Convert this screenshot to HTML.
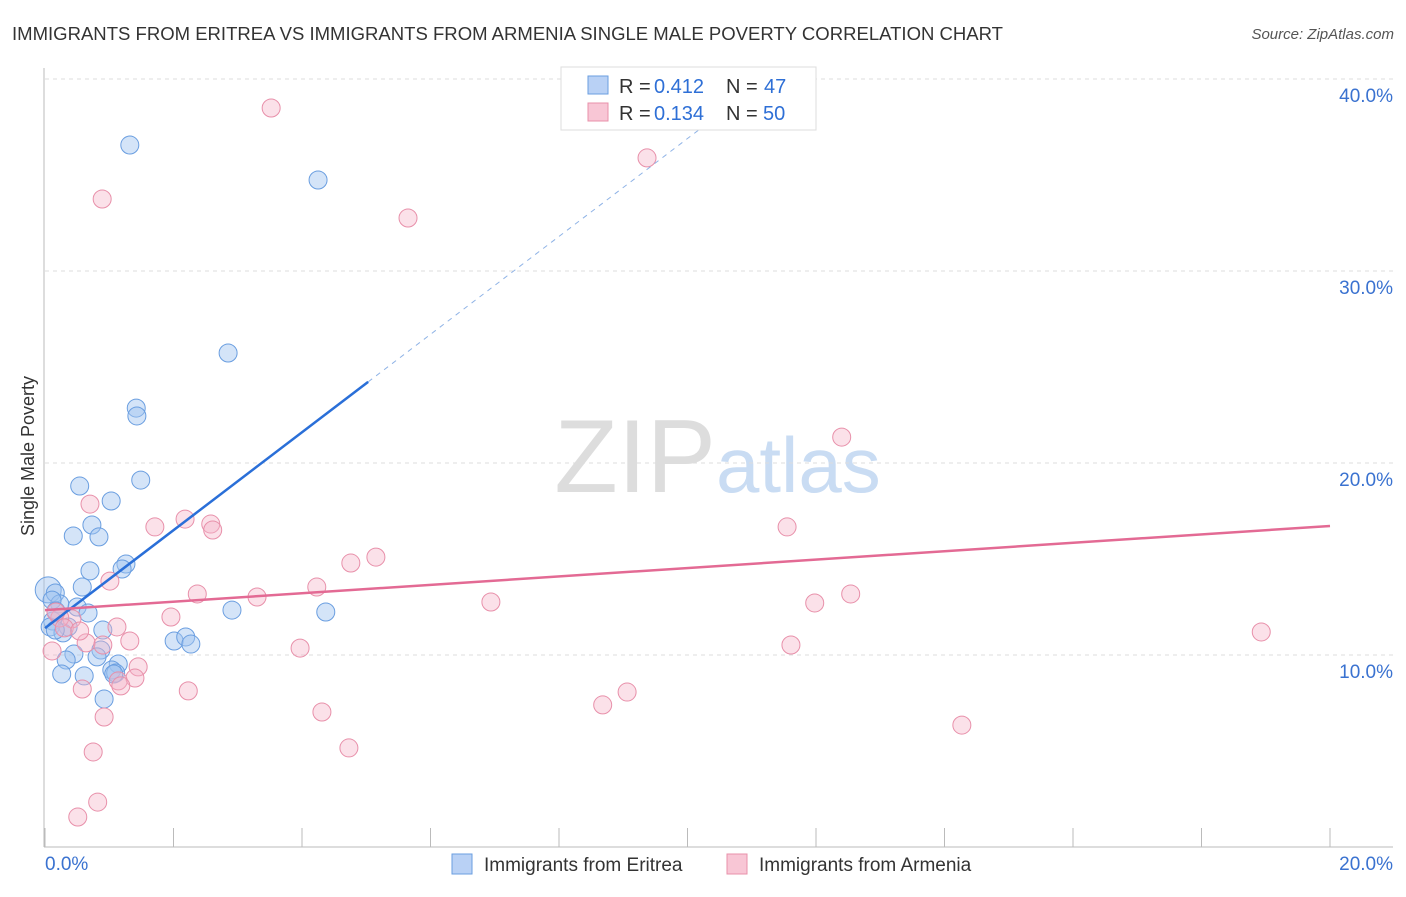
<!DOCTYPE html>
<html><head><meta charset="utf-8"><style>
body{margin:0;background:#fff;font-family:"Liberation Sans",sans-serif}
svg text{font-family:"Liberation Sans",sans-serif}
</style></head><body>
<svg id="chart" width="1406" height="892">
<text x="12" y="40" font-size="18" fill="#333" textLength="991" lengthAdjust="spacingAndGlyphs">IMMIGRANTS FROM ERITREA VS IMMIGRANTS FROM ARMENIA SINGLE MALE POVERTY CORRELATION CHART</text>
<text x="1394" y="39" font-size="15" fill="#555" font-style="italic" text-anchor="end">Source: ZipAtlas.com</text>
<text x="716" y="492" font-size="104" fill="#ddd" text-anchor="end" font-family="Liberation Serif">ZIP</text>
<text x="716" y="492" font-size="78" fill="#c9dcf3">atlas</text>
<text transform="translate(34,456) rotate(-90)" font-size="18" fill="#333" text-anchor="middle">Single Male Poverty</text>
<g id="grid"></g><g id="marks"></g><g id="lines"></g>
<g>
<rect x="561" y="67" width="255" height="63" fill="#fff" stroke="#ddd"/>
<rect x="588" y="76" width="20" height="18" fill="#b9d1f5" stroke="#6a9ee0"/>
<rect x="588" y="103" width="20" height="18" fill="#f8c6d5" stroke="#e890aa"/>
<text x="619" y="93" font-size="20" fill="#333">R =</text><text x="654" y="93" font-size="20" fill="#2e6fd6">0.412</text>
<text x="726" y="93" font-size="20" fill="#333">N =</text><text x="764" y="93" font-size="20" fill="#2e6fd6">47</text>
<text x="619" y="120" font-size="20" fill="#333">R =</text><text x="654" y="120" font-size="20" fill="#2e6fd6">0.134</text>
<text x="726" y="120" font-size="20" fill="#333">N =</text><text x="763" y="120" font-size="20" fill="#2e6fd6">50</text>
</g>
<g>
<rect x="452" y="854" width="20" height="20" fill="#b9d1f5" stroke="#6a9ee0"/>
<text x="484" y="871" font-size="19" fill="#333">Immigrants from Eritrea</text>
<rect x="727" y="854" width="20" height="20" fill="#f8c6d5" stroke="#e890aa"/>
<text x="759" y="871" font-size="19" fill="#333">Immigrants from Armenia</text>
</g>
<text x="45" y="870" font-size="19" fill="#3a72d0">0.0%</text>
<text x="1393" y="870" font-size="19" fill="#3a72d0" text-anchor="end">20.0%</text>
</svg>
<script>
const yTicks=[10,20,30,40];
const yTickLabels=["10.0%","20.0%","30.0%","40.0%"];
const eritreaX=[1.32,4.25,2.85,1.42,1.43,1.49,0.54,1.03,0.73,0.44,0.84,1.26,1.20,0.70,0.58,0.05,0.16,0.23,0.50,0.67,0.12,0.36,0.90,0.08,0.28,2.91,4.37,2.01,2.19,2.27,0.87,0.45,0.33,0.81,1.14,1.04,0.26,0.61,1.10,0.92,0.11,0.17,1.07,0.16];
const eritreaY=[36.56,34.74,25.73,22.86,22.45,19.11,18.80,18.02,16.77,16.20,16.15,14.74,14.48,14.38,13.54,13.39,13.23,12.66,12.50,12.19,11.77,11.46,11.30,11.46,11.15,12.34,12.24,10.73,10.94,10.57,10.26,10.05,9.74,9.90,9.53,9.22,9.01,8.91,9.06,7.71,12.86,12.29,9.01,11.30];
const armeniaX=[3.52,0.89,5.65,9.37,12.40,11.55,1.71,2.18,2.58,2.61,0.70,5.15,4.76,4.23,2.37,3.30,6.94,11.98,12.54,1.01,1.96,1.12,1.32,0.42,0.23,0.11,0.64,3.97,11.61,18.93,1.45,1.14,1.40,1.18,0.58,2.23,9.06,8.68,0.92,4.31,14.27,4.73,0.75,0.82,0.51,0.17,0.30,0.90,0.54];
const armeniaY=[38.49,33.75,32.76,35.89,21.35,16.67,16.67,17.08,16.82,16.51,17.86,15.10,14.79,13.54,13.18,13.02,12.76,12.71,13.18,13.85,11.98,11.46,10.73,11.88,11.93,10.21,10.63,10.36,10.52,11.20,9.38,8.65,8.80,8.39,8.23,8.13,8.07,7.40,6.77,7.03,6.35,5.16,4.95,2.34,1.56,12.24,11.41,10.52,11.25];
const eritreaTrend=[11.4,2.55];   // intercept, slope
const armeniaTrend=[12.34,0.219];
const NS="http://www.w3.org/2000/svg";
const sx=v=>45+v/20*1285, sy=v=>847-v*19.2;
function mk(t,a,p){const e=document.createElementNS(NS,t);for(const k in a)e.setAttribute(k,a[k]);p.appendChild(e);return e;}
const grid=document.getElementById('grid');
yTicks.forEach((t,i)=>{
 const l=mk('line',{x1:45,x2:1393,y1:sy(t),y2:sy(t),stroke:'#ddd','stroke-dasharray':'4,4'},grid);
 
 
 const tx=mk('text',{x:1393,y:sy(t)+23,'font-size':19,fill:'#3a72d0','text-anchor':'end'},grid);
 tx.textContent=yTickLabels[i];
 
 
});
const ax=mk('line',{x1:44,x2:44,y1:68,y2:847,stroke:'#bbb'},grid);


const bx=mk('line',{x1:44,x2:1393,y1:847,y2:847,stroke:'#bbb'},grid);


for(let i=0;i<=10;i++){const t=mk('line',{x1:sx(i*2),x2:sx(i*2),y1:828,y2:847,stroke:'#bbb'},grid);
 
 }
const marks=document.getElementById('marks');
eritreaX.forEach((x,i)=>{const c=mk('circle',{cx:sx(x),cy:sy(eritreaY[i]),r:i==15?13:9,fill:'rgba(160,195,240,0.45)',stroke:'#6a9ee0','stroke-width':1},marks);
 
 });
armeniaX.forEach((x,i)=>{const c=mk('circle',{cx:sx(x),cy:sy(armeniaY[i]),r:9,fill:'rgba(245,180,200,0.4)',stroke:'#e890aa','stroke-width':1},marks);
 
 });
const lines=document.getElementById('lines');
const f=(tr,x)=>tr[0]+tr[1]*x;
const b1=mk('line',{x1:sx(0),y1:sy(f(eritreaTrend,0)),x2:sx(5.03),y2:sy(f(eritreaTrend,5.03)),stroke:'#2a6fd8','stroke-width':2.5},lines);


const b2=mk('line',{x1:sx(5.03),y1:sy(f(eritreaTrend,5.03)),x2:sx(10.8),y2:sy(f(eritreaTrend,10.8)),stroke:'#8fb3e6','stroke-width':1,'stroke-dasharray':'5,5'},lines);


const p1=mk('line',{x1:sx(0),y1:sy(f(armeniaTrend,0)),x2:sx(20),y2:sy(f(armeniaTrend,20)),stroke:'#e36a94','stroke-width':2.5},lines);


</script>
</body></html>
